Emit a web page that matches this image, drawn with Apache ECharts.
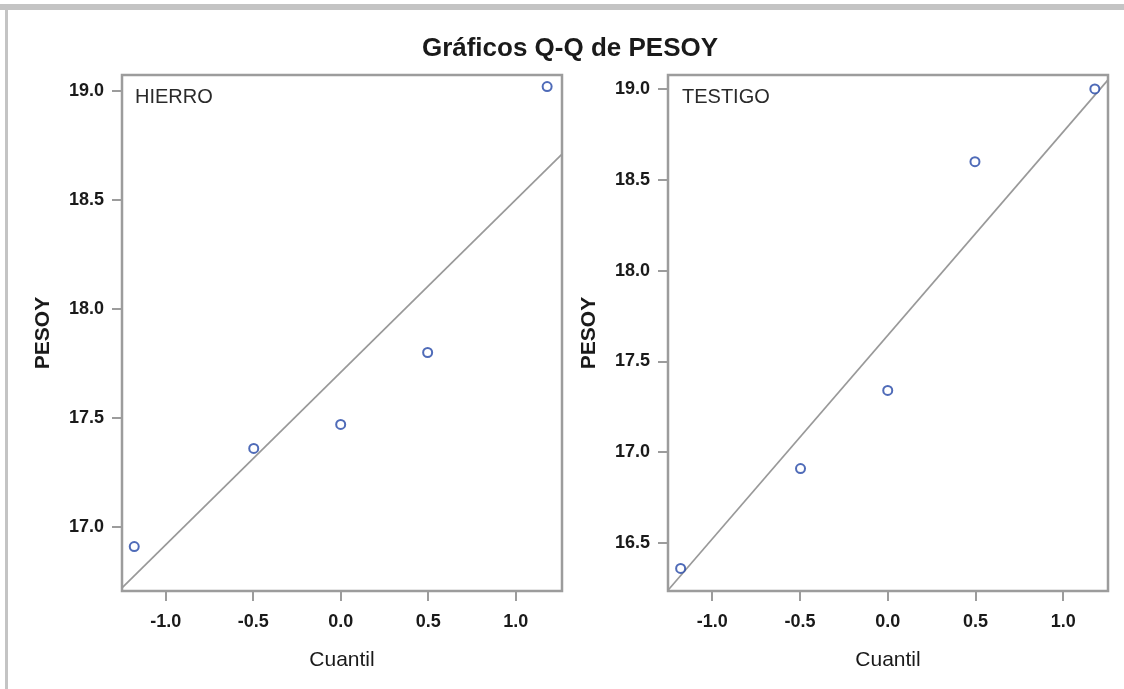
<!DOCTYPE html>
<html>
<head>
<meta charset="utf-8">
<script src="https://cdn.jsdelivr.net/npm/echarts@6/dist/echarts.min.js"></script>
<style>
html,body{margin:0;padding:0;background:#fff;}
#chart{width:1124px;height:689px;}
</style>
</head>
<body>
<div id="chart"></div>
<script>
// ---- data ----
const titleText = "Gráficos Q-Q de PESOY";
const panelNames = ["HIERRO", "TESTIGO"];
const xAxisName = "Cuantil";
const yAxisName = "PESOY";
const quantiles = [-1.18, -0.497, 0.0, 0.497, 1.18];
const hierroValues = [16.91, 17.36, 17.47, 17.80, 19.02];
const testigoValues = [16.36, 16.91, 17.34, 18.60, 19.00];
// reference line endpoints (x at box edges, y)
const hierroLineX = [-1.25, 1.265];
const hierroLineY = [16.72, 18.71];
const testigoLineX = [-1.252, 1.255];
const testigoLineY = [16.24, 19.05];
const xTicks = [-1.0, -0.5, 0.0, 0.5, 1.0];
const hierroYTicks = [17.0, 17.5, 18.0, 18.5, 19.0];
const testigoYTicks = [16.5, 17.0, 17.5, 18.0, 18.5, 19.0];

const chart = echarts.init(document.getElementById('chart'));
const font = "'Liberation Sans', Arial, sans-serif";
const gray = '#9c9c9c';
const dark = '#1a1a1a';

function pts(xs, ys){ return xs.map((x,i)=>[x, ys[i]]); }

function xAxis(gi, min, max){
  return {
    type:'value', gridIndex:gi, min:min, max:max,
    name:xAxisName, nameLocation:'middle', nameGap:59,
    nameTextStyle:{fontFamily:font, fontSize:21, color:dark},
    axisLine:{show:false, onZero:false},
    axisTick:{show:true, length:10, lineStyle:{color:gray, width:2}, customValues:xTicks},
    axisLabel:{fontFamily:font, fontSize:18, fontWeight:'bold', color:dark, margin:22,
      customValues:xTicks, formatter:v=>v.toFixed(1)},
    splitLine:{show:false}
  };
}
function yAxis(gi, min, max, ticks){
  return {
    type:'value', gridIndex:gi, min:min, max:max,
    name:yAxisName, nameLocation:'middle', nameGap:68, nameRotate:90,
    nameTextStyle:{fontFamily:font, fontSize:21, fontWeight:'bold', color:dark},
    axisLine:{show:false, onZero:false},
    axisTick:{show:true, length:10, lineStyle:{color:gray, width:2}, customValues:ticks},
    axisLabel:{fontFamily:font, fontSize:18, fontWeight:'bold', color:dark, margin:18,
      customValues:ticks, formatter:v=>v.toFixed(1)},
    splitLine:{show:false}
  };
}
function scatter(i, ys){
  return {type:'scatter', xAxisIndex:i, yAxisIndex:i, data:pts(quantiles, ys),
    symbol:'emptyCircle', symbolSize:9,
    itemStyle:{color:'#2346a6', borderColor:'#2346a6', borderWidth:2.1}, z:3};
}
function refLine(i, xs, ys){
  return {type:'line', xAxisIndex:i, yAxisIndex:i, data:pts(xs, ys), symbol:'none',
    lineStyle:{color:'#999999', width:1.7}, z:2};
}

chart.setOption({
  backgroundColor:'#fff',
  animation:false,
  title:{text:titleText, left:565, top:31, textAlign:'center',
    textStyle:{fontFamily:font, fontSize:26, fontWeight:'bold', color:dark}},
  grid:[
    {left:122, right:562, top:75, bottom:98, show:true, borderColor:gray, borderWidth:2.5, backgroundColor:'#fff'},
    {left:668, right:16, top:75, bottom:98, show:true, borderColor:gray, borderWidth:2.5, backgroundColor:'#fff'}
  ],
  xAxis:[xAxis(0, hierroLineX[0], hierroLineX[1]), xAxis(1, testigoLineX[0], testigoLineX[1])],
  yAxis:[yAxis(0, 16.706, 19.073, hierroYTicks), yAxis(1, 16.236, 19.077, testigoYTicks)],
  graphic:[
    {type:'rect', shape:{x:0, y:4, width:1124, height:6}, style:{fill:'#c4c4c4'}, silent:true},
    {type:'rect', shape:{x:5, y:4, width:3, height:685}, style:{fill:'#c4c4c4'}, silent:true},
    {type:'text', left:135, top:87, style:{text:panelNames[0], fontFamily:font, fontSize:20, fill:'#2a2a2a'}},
    {type:'text', left:682, top:87, style:{text:panelNames[1], fontFamily:font, fontSize:20, fill:'#2a2a2a'}}
  ],
  series:[
    refLine(0, hierroLineX, hierroLineY),
    scatter(0, hierroValues),
    refLine(1, testigoLineX, testigoLineY),
    scatter(1, testigoValues)
  ]
});
</script>
</body>
</html>
